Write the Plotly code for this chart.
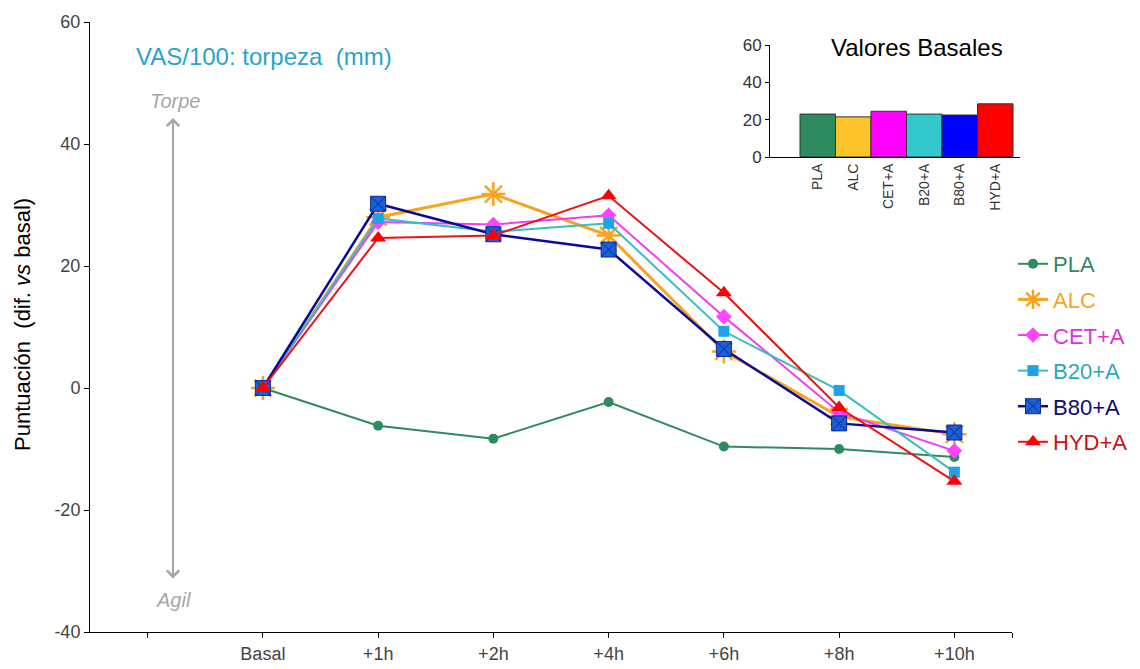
import plotly.graph_objects as go

# Time points (category positions 1..7 on a numeric axis, with an empty slot at 0)
time_labels = ["Basal", "+1h", "+2h", "+4h", "+6h", "+8h", "+10h"]
time_pos = [1, 2, 3, 4, 5, 6, 7]

# y ticks (plain hyphen for negatives)
y_ticks = [-40, -20, 0, 20, 40, 60]
y_tick_text = ["-40", "-20", "0", "20", "40", "60"]

# Change vs basal, VAS/100 clumsiness (mm)
pla = [0, -6.2, -8.3, -2.3, -9.6, -10.0, -11.3]
alc = [0, 28.0, 31.8, 25.0, 6.0, -4.7, -7.6]
cet_a = [0, 27.2, 26.8, 28.3, 11.7, -4.0, -10.3]
b20_a = [0, 27.8, 25.6, 27.0, 9.3, -0.4, -13.8]
b80_a = [0, 30.2, 25.2, 22.7, 6.4, -5.8, -7.3]
hyd_a = [0, 24.6, 25.0, 31.5, 15.6, -3.2, -15.3]

# Basal values (inset bar chart)
groups = ["PLA", "ALC", "CET+A", "B20+A", "B80+A", "HYD+A"]
basal_values = [23.0, 21.5, 24.5, 23.0, 22.5, 28.5]
basal_colors = ["#2e8b5f", "#fcc42a", "#ff00ff", "#33c9cc", "#0000ff", "#ff0000"]

series = [
    # name, values, line colour, marker colour, symbol, size, legend text colour, line width
    ("PLA", pla, "#2e8b5f", "#2e8b5f", "circle", 10, "#2e8b5f", 2),
    ("ALC", alc, "#f7a520", "#f7a520", "asterisk-open", 20, "#f7a520", 3),
    ("CET+A", cet_a, "#f23cf2", "#ff44ff", "diamond", 12, "#e030e0", 2),
    ("B20+A", b20_a, "#35c0c0", "#1ea3e6", "square", 11, "#2aa6c6", 2),
    ("B80+A", b80_a, "#0a0a9a", "#1b5fd6", "square-x", 15, "#0c0c70", 2.5),
    ("HYD+A", hyd_a, "#ee1111", "#ff0000", "triangle-up", 14, "#d01010", 2),
]

FONT = "Liberation Sans, Arial"

fig = go.Figure()

for name, vals, lcol, mcol, sym, size, tcol, lw in series:
    marker = dict(symbol=sym, size=size, color=mcol)
    if sym == "asterisk-open":
        marker["line"] = dict(color=mcol, width=2.5)
    elif sym == "square-x":
        marker["line"] = dict(color="#0a2a9a", width=1)
    else:
        marker["line"] = dict(width=0)
    fig.add_trace(go.Scatter(
        x=time_pos, y=vals, mode="lines+markers", name=f"<span style='color:{tcol}'>{name}</span>",
        legendgroup=name, line=dict(color=lcol, width=lw), marker=marker,
        xaxis="x", yaxis="y",
    ))

# Inset: basal values
fig.add_trace(go.Bar(
    x=list(range(1, len(groups) + 1)), y=basal_values, width=1,
    marker=dict(color=basal_colors, line=dict(color="#333333", width=1)),
    showlegend=False, xaxis="x2", yaxis="y2",
))

W, H = 1140, 669
ml, mr, mt, mb = 90, 100, 22, 37
pw = W - ml - mr
ph = H - mt - mb


def px_x(p):
    return (p - ml) / pw


def px_y(p):
    return (H - mb - p) / ph


axis_font = dict(family=FONT, size=18, color="#444444")

fig.update_layout(
    width=W, height=H,
    margin=dict(l=ml, r=mr, t=mt, b=mb, autoexpand=False),
    plot_bgcolor="white", paper_bgcolor="white",
    font=dict(family=FONT),
    xaxis=dict(
        domain=[0, px_x(1012)], range=[-0.5, 7.5], automargin=False,
        tickvals=[0] + time_pos + [7.5], ticktext=[""] + time_labels + [""],
        ticks="outside", ticklen=5, tickcolor="black",
        showline=True, linecolor="black", linewidth=1,
        showgrid=False, zeroline=False, tickfont=axis_font,
    ),
    yaxis=dict(
        range=[-40, 60], tickvals=y_ticks, ticktext=y_tick_text, automargin=False,
        ticks="outside", ticklen=5, tickcolor="black",
        showline=True, linecolor="black", linewidth=1,
        showgrid=False, zeroline=False, tickfont=axis_font,
    ),
    xaxis2=dict(
        domain=[px_x(770), px_x(1020)], anchor="y2", automargin=False,
        range=[-0.345, 6.697],
        tickvals=list(range(1, len(groups) + 1)), ticktext=groups,
        tickangle=-90, ticks="", showline=True, linecolor="black", linewidth=1,
        showgrid=False, zeroline=False,
        tickfont=dict(family=FONT, size=14, color="#333333"),
    ),
    yaxis2=dict(
        domain=[px_y(157), px_y(45)], anchor="x2", automargin=False,
        range=[0, 60], tickvals=[0, 20, 40, 60],
        ticks="outside", ticklen=4, tickcolor="black",
        showline=True, linecolor="black", linewidth=1,
        showgrid=False, zeroline=False,
        tickfont=dict(family=FONT, size=17, color="#333333"),
    ),
    legend=dict(
        x=px_x(1013), y=px_y(243), xanchor="left", yanchor="top",
        font=dict(family=FONT, size=22),
        bgcolor="rgba(0,0,0,0)", tracegroupgap=4, itemwidth=30,
    ),
    annotations=[
        dict(text="VAS/100: torpeza  (mm)", x=px_x(134), y=px_y(57), xref="paper", yref="paper",
             xanchor="left", yanchor="middle", showarrow=False,
             font=dict(family=FONT, size=24, color="#29a3c7")),
        dict(text="Valores Basales", x=px_x(917), y=px_y(47), xref="paper", yref="paper",
             xanchor="center", yanchor="middle", showarrow=False,
             font=dict(family=FONT, size=24, color="black")),
        dict(text="Puntuación  (dif. <i>vs</i> basal)", x=px_x(22), y=px_y(325),
             xref="paper", yref="paper", textangle=-90, showarrow=False,
             xanchor="center", yanchor="middle",
             font=dict(family=FONT, size=22, color="black")),
        dict(text="<i>Torpe</i>", x=px_x(175), y=px_y(101), xref="paper", yref="paper",
             showarrow=False, xanchor="center", yanchor="middle",
             font=dict(family=FONT, size=20, color="#a6a6a6")),
        dict(text="<i>Agil</i>", x=px_x(173), y=px_y(600), xref="paper", yref="paper",
             showarrow=False, xanchor="center", yanchor="middle",
             font=dict(family=FONT, size=20, color="#a6a6a6")),
        dict(text="", x=px_x(173), y=px_y(118), ax=0, ay=580 - 118,
             xref="paper", yref="paper", axref="pixel", ayref="pixel",
             showarrow=True, arrowhead=4, startarrowhead=4, arrowside="end+start",
             arrowsize=1.2, startarrowsize=1.2, arrowwidth=2, arrowcolor="#a6a6a6"),
    ],
)

fig.write_html("out.html")
